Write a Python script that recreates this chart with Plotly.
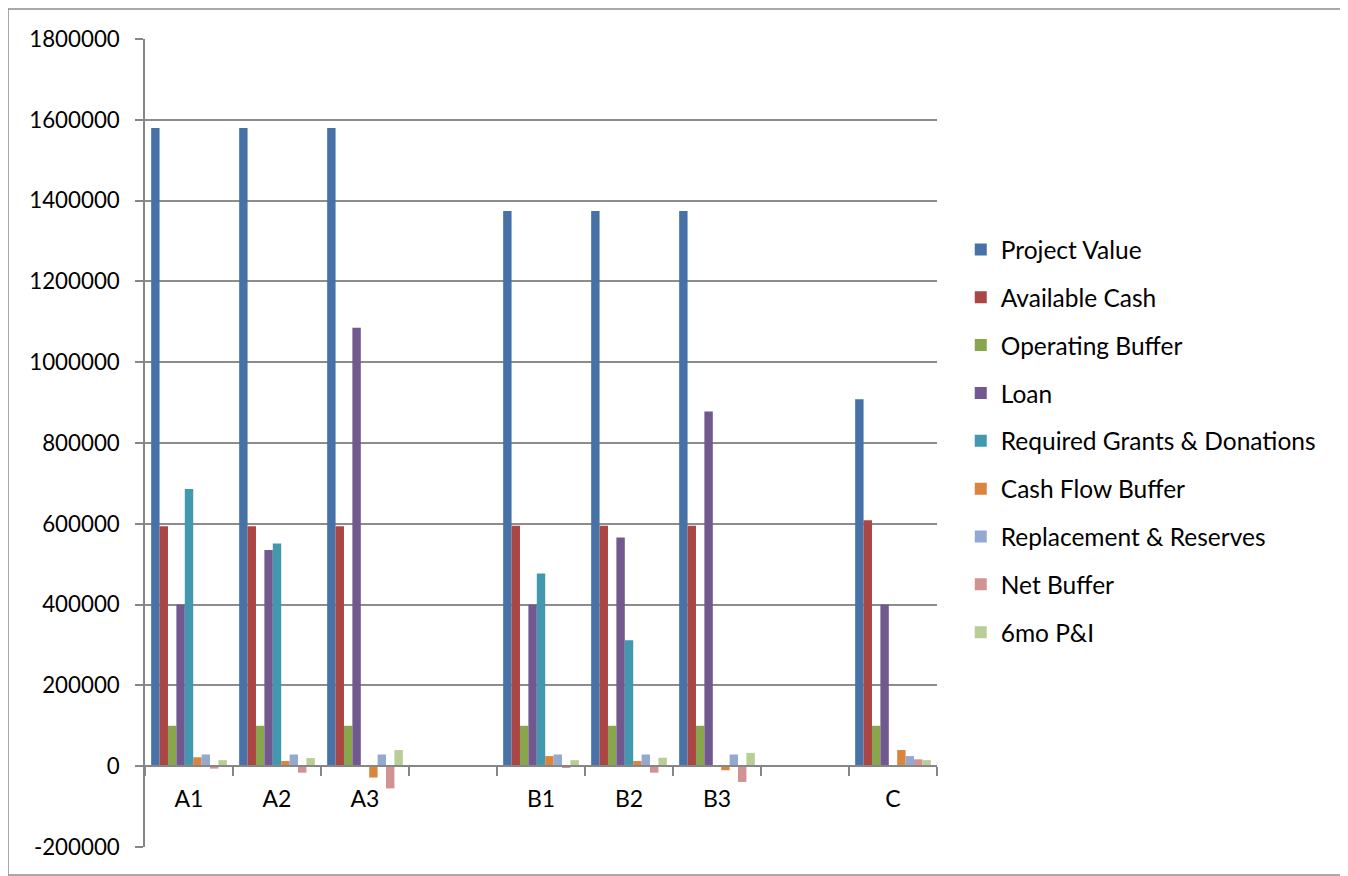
import plotly.graph_objects as go

categories = ["A1", "A2", "A3", " ", "B1", "B2", "B3", "  ", "C"]

series_names = [
    "Project Value", "Available Cash", "Operating Buffer", "Loan",
    "Required Grants & Donations", "Cash Flow Buffer",
    "Replacement & Reserves", "Net Buffer", "6mo P&I",
]

project_value = [1580000, 1580000, 1580000, None, 1374000, 1374000, 1374000, None, 908000]
available_cash = [594000, 594000, 594000, None, 595000, 595000, 595000, None, 609000]
operating_buffer = [100000, 100000, 100000, None, 100000, 100000, 100000, None, 100000]
loan = [400000, 535000, 1085000, None, 400000, 566000, 878000, None, 400000]
required_grants = [686000, 551000, 0, None, 477000, 312000, 0, None, 0]
cash_flow_buffer = [22000, 13000, -28000, None, 25000, 13000, -10000, None, 40000]
replacement_reserves = [29000, 29000, 29000, None, 29000, 29000, 29000, None, 25000]
net_buffer = [-6000, -16000, -55000, None, -2000, -16000, -39000, None, 17000]
p_and_i = [15000, 20000, 40000, None, 15000, 21000, 33000, None, 15000]

values = [project_value, available_cash, operating_buffer, loan, required_grants,
          cash_flow_buffer, replacement_reserves, net_buffer, p_and_i]

colors = ["#4672A8", "#AA4643", "#89A54E", "#71588F", "#4198AF",
          "#DB843D", "#93A9CF", "#D19392", "#B9CD96"]

y_ticks = [-200000, 0, 200000, 400000, 600000, 800000, 1000000,
           1200000, 1400000, 1600000, 1800000]

FONT = "Lato"

fig = go.Figure()
for i, (name, vals, col) in enumerate(zip(series_names, values, colors)):
    fig.add_trace(go.Bar(
        x=categories, y=vals, name=name,
        marker=dict(color=col, line=dict(width=0)),
        legendgroup=f"g{i}",
    ))

fig.update_layout(
    width=1340, height=868,
    paper_bgcolor="white", plot_bgcolor="white",
    margin=dict(l=137, r=411, t=31, b=29),
    barmode="group", bargap=0.14, bargroupgap=0,
    font=dict(family=FONT, size=23, color="black"),
    showlegend=True,
    legend=dict(
        x=1.03, y=0.5025, xanchor="left", yanchor="middle",
        font=dict(family=FONT, size=24.5, color="black"),
        tracegroupgap=13, bgcolor="rgba(0,0,0,0)",
    ),
    xaxis=dict(
        type="category", categoryorder="array", categoryarray=categories,
        anchor="free", position=0.1,
        showline=True, linecolor="#868686", linewidth=1.5,
        ticks="outside", tickson="boundaries", ticklen=9, tickwidth=1.5,
        tickcolor="#868686", showgrid=False, zeroline=False,
        tickfont=dict(family=FONT, size=23, color="black"),
        ticklabelstandoff=12,
    ),
    yaxis=dict(
        range=[-200000, 1800000], tickvals=y_ticks,
        ticktext=[str(v) for v in y_ticks],
        showline=True, linecolor="#868686", linewidth=1.5,
        ticks="outside", ticklen=8, tickwidth=1.5, tickcolor="#868686",
        showgrid=True, gridcolor="#8C8C8C", gridwidth=1.5,
        zeroline=False,
        tickfont=dict(family=FONT, size=22.3, color="black"),
        ticklabelstandoff=11,
    ),
    shapes=[dict(
        type="rect", xref="paper", yref="paper",
        x0=(8 - 145) / 792, x1=(1343 - 145) / 792,
        y0=(847 - 875) / 808, y1=(847 - 9) / 808,
        line=dict(color="#8C8C8C", width=1.5), fillcolor="rgba(0,0,0,0)",
        layer="below",
    )],
)

fig.write_html("out.html")
